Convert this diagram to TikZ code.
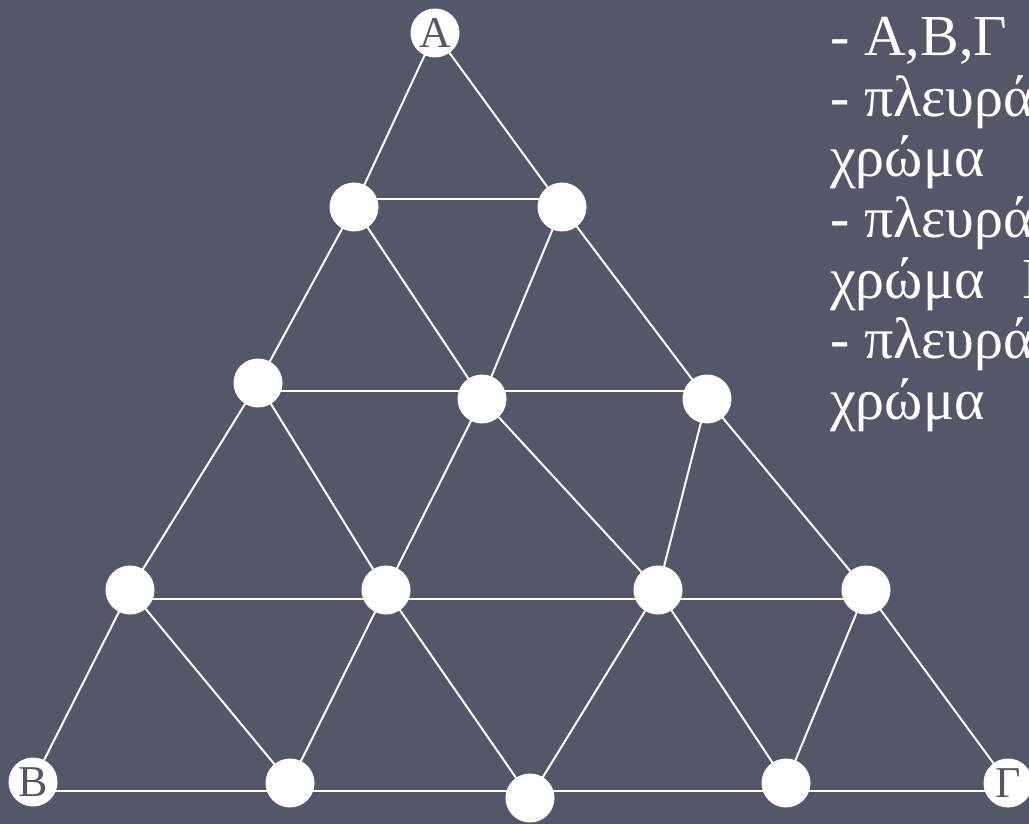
\documentclass[tikz,border=0pt]{standalone}
\usepackage{fontspec}
\setmainfont{Liberation Serif}
\usepackage{tikz}
\definecolor{slate}{RGB}{83,87,103}
\pgfdeclarelayer{bg}
\pgfdeclarelayer{edges}
\pgfsetlayers{bg,edges,main}
\tikzset{dot/.style={circle, fill=white, inner sep=0pt, minimum size=49pt, text=slate, font=\fontsize{44}{44}\selectfont}}
\tikzset{edge/.style={white, line width=2pt}}
\tikzset{legend/.style={white, inner sep=0pt, anchor=base west, font=\fontsize{58}{58}\selectfont}}

\begin{document}
\begin{tikzpicture}[x=1pt, y=-1pt]
\begin{pgfonlayer}{bg}
\fill[slate] (0,0) rectangle (1029,824);
\end{pgfonlayer}
\clip (0,0) rectangle (1029,824);
% vertices
\node[dot] (A) at (435,33) {Α};
\node[dot] (r1a) at (354,207) {}; \node[dot] (r1b) at (562,207) {};
\node[dot] (r2a) at (258,383) {}; \node[dot] (r2b) at (482,399) {}; \node[dot] (r2c) at (707,399) {};
\node[dot] (r3a) at (130,590) {}; \node[dot] (r3b) at (386,590) {}; \node[dot] (r3c) at (658,590) {}; \node[dot] (r3d) at (866,590) {};
\node[dot] (B) at (33,782) {Β}; \node[dot] (r4a) at (290,783) {}; \node[dot] (r4b) at (530,798) {}; \node[dot] (r4c) at (786,783) {}; \node[dot] (G) at (1008,783) {Γ};
% edges
\begin{pgfonlayer}{edges}
\draw[edge] ([yshift=8pt]r1a.center) -- ([yshift=8pt]r1b.center);
\draw[edge] ([yshift=-8pt]r2a.center) -- ([yshift=8pt]r2c.center);
\draw[edge] ([yshift=-9pt]r3a.center) -- ([yshift=-9pt]r3d.center);
\draw[edge] ([yshift=-9pt]B.center) -- ([yshift=-8pt]G.center);
\foreach \p/\q in {A/r1a, A/r1b, r1a/r2a, r1a/r2b, r1b/r2b, r1b/r2c,
  r2a/r3a, r2a/r3b, r2b/r3b, r2b/r3c, r2c/r3c, r2c/r3d,
  r3a/B, r3a/r4a, r3b/r4a, r3b/r4b, r3c/r4b, r3c/r4c, r3d/r4c, r3d/G}
  \draw[edge] (\p.center) -- (\q.center);
\end{pgfonlayer}
% legend
\foreach \t [count=\i] in {- Α{,}Β{,}Γ, - πλευρά, χρώμα, - πλευρά, χρώμα\hspace{38pt}Β, - πλευρά, χρώμα}
  \node[legend] (t\i) at (830,{56+60.5*(\i-1)}) {\t};
\end{tikzpicture}
\end{document}
